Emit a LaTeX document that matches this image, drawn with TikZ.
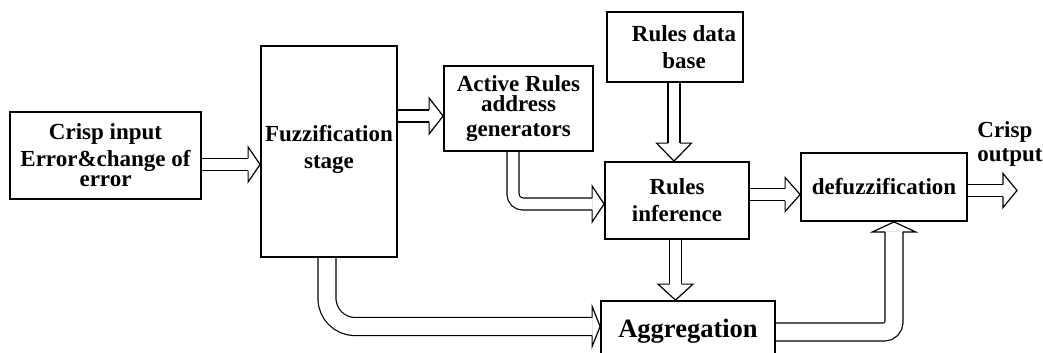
\documentclass[tikz,border=0pt]{standalone}
\usepackage{fontspec}
\setmainfont{Liberation Serif}
\usetikzlibrary{calc,backgrounds}
\begin{document}
\begin{tikzpicture}[x=0.5pt,y=-0.5pt]
        % Define styles for blocks and arrows
        \tikzstyle{block}=[draw=black, line width=0.9pt, inner sep=0pt, align=center, font=\fontsize{11.5}{13.5}\selectfont\bfseries]
        \tikzstyle{shaft}=[draw=black, line width=0.6pt, double=white, double distance=5.4pt]
        \tikzstyle{wideshaft}=[shaft, double distance=8.4pt]
        \tikzstyle{headline}=[draw=black, line width=0.6pt, line join=miter]
        \tikzset{pics/ahead/.style args={#1/#2/#3}{code={
          \draw[headline] (-#1,#3) -- (-#1,#2) -- (0,0) -- (-#1,-#2) -- (-#1,-#3);}}}

        \useasboundingbox (0,0) rectangle (1043,353);
        \clip (0,0) rectangle (1043,353);

        % Define blocks
        \node[block, minimum width=95.5pt, minimum height=43.5pt] (input) at (105.5,155.5) {Crisp input\\Error\&change of\\[-3.5pt]error};
        \node[block, minimum width=68pt, minimum height=105.5pt] (fuzz) at (329,151.5) {Fuzzification\\stage\rule[-5pt]{0pt}{5pt}};
        \node[block, minimum width=74.5pt, minimum height=42.5pt] (active) at (518.5,108.5) {Active Rules\\[-3.5pt]address\\[-1pt]generators};
        \node[block, minimum width=68pt, minimum height=35pt] (database) at (675,47) {\hspace*{9pt}Rules data\\\hspace*{9pt}base};
        \node[block, minimum width=72pt, minimum height=38.5pt] (inference) at (677,200.5) {Rules\\inference};
        \node[block, minimum width=83pt, minimum height=34pt] (defuzz) at (884,187) {defuzzification};
        \node[block, minimum width=87pt, minimum height=30pt, font=\fontsize{13.25}{15}\selectfont\bfseries] (aggreg) at (688,331) {Aggregation};
        \coordinate (out) at (1017,190.5);
        \node[font=\fontsize{11.5}{13.5}\selectfont\bfseries, align=left, anchor=north west, inner sep=0pt] (outlabel) at (977,121) {Crisp\\[-1.5pt]output};

        % Draw arrows
        \begin{scope}[on background layer]
        % input -> fuzzification
        \draw[shaft] ($(input.east)+(0,9)$) -- ($(fuzz.west |- input.east)+(-12,9)$);
        \pic at ($(fuzz.west |- input.east)+(0,9)$) {ahead=6pt/8.75pt/3pt};
        % fuzzification -> active rules
        \draw[shaft] ($(fuzz.east |- active.west)+(0,7.5)$) -- ($(active.west)+(-14,7.5)$);
        \pic at ($(active.west)+(0,7.5)$) {ahead=7pt/9pt/3pt};
        % data base -> inference
        \draw[shaft] ($(database.south)+(-1,0)$) -- ($(database.south |- inference.north)+(-1,-18)$);
        \pic[rotate=-90] at ($(database.south |- inference.north)+(-1,0)$) {ahead=9pt/8.75pt/3pt};
        % active rules -> inference
        \draw[shaft, rounded corners=5pt] ($(active.south)+(-5.5,0)$) |- ($(inference.west)+(-12,3.5)$);
        \pic at ($(inference.west)+(0,3.5)$) {ahead=6pt/9pt/3pt};
        % inference -> defuzzification
        \draw[shaft] ($(inference.east)+(0,-6)$) -- ($(defuzz.west |- inference.east)+(-15,-6)$);
        \pic at ($(defuzz.west |- inference.east)+(0,-6)$) {ahead=7.5pt/8.5pt/3pt};
        % inference -> aggregation
        \draw[shaft] ($(inference.south)+(-1.5,0)$) -- ($(inference.south |- aggreg.north)+(-1.5,-16)$);
        \pic[rotate=-90] at ($(inference.south |- aggreg.north)+(-1.5,0)$) {ahead=8pt/8.75pt/3pt};
        % defuzzification -> crisp output
        \draw[shaft] (defuzz.east |- out) -- ($(out)+(-14,0)$);
        \pic at (out) {ahead=7pt/8.5pt/3pt};
        % fuzzification -> aggregation
        \draw[wideshaft, rounded corners=14pt] ($(fuzz.south)+(-2,0)$) |- ($(aggreg.west)+(-8,-4.5)$);
        \pic at ($(aggreg.west)+(0,-4.5)$) {ahead=4pt/10pt/4.5pt};
        % aggregation -> defuzzification
        \draw[wideshaft, rounded corners=5pt] ($(aggreg.east)+(0,1)$) -| ($(defuzz.south)+(10,10)$);
        \pic[rotate=90] at ($(defuzz.south)+(10,0)$) {ahead=5pt/10.75pt/4.5pt};
        \end{scope}
\end{tikzpicture}
\end{document}
